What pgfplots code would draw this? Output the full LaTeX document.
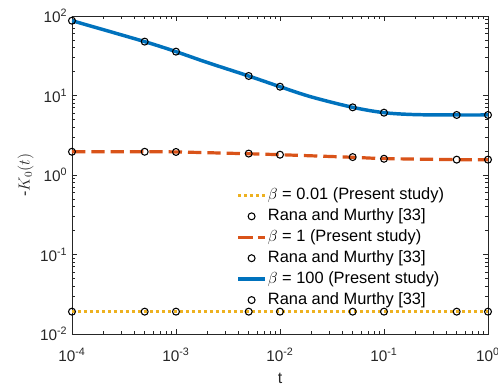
\documentclass[border=0pt]{standalone}
\usepackage{fontspec}
\setmainfont{Liberation Sans}
\usepackage{pgfplots}
\pgfplotsset{compat=1.18}
\definecolor{mblue}{rgb}{0,0.447,0.741}
\definecolor{morange}{rgb}{0.85,0.325,0.098}
\definecolor{myellow}{rgb}{0.929,0.694,0.125}
\definecolor{axgray}{rgb}{0.15,0.15,0.15}
\begin{document}
\begin{tikzpicture}
\begin{axis}[
  name=ax,
  scale only axis,
  width=312pt, height=238.5pt,
  xmode=log, ymode=log,
  xmin=1e-4, xmax=1, ymin=1e-2, ymax=1e2,
  axis line style={axgray, line width=0.5pt},
  every tick/.style={axgray, line width=0.5pt},
  major tick length=4pt, minor tick length=2.2pt,
  xtick={1e-4,1e-3,1e-2,1e-1,1},
  xticklabels={10\textsuperscript{-4},10\textsuperscript{-3},10\textsuperscript{-2},10\textsuperscript{-1},10\textsuperscript{0}},
  ytick={1e-2,1e-1,1,1e1,1e2},
  yticklabels={10\textsuperscript{-2},10\textsuperscript{-1},10\textsuperscript{0},10\textsuperscript{1},10\textsuperscript{2}},
  tick label style={font=\fontsize{11.5}{13}\selectfont, text=axgray},
  xticklabel style={yshift=-7pt},
  xlabel={$\mathrm{t}$},
  ylabel={-$K_0(t)$},
  label style={font=\fontsize{12}{14}\selectfont, text=axgray},
  xlabel style={yshift=-2pt},
  ylabel style={yshift=-2pt},
  legend cell align=left,
  legend style={draw=none, fill=none, at={(0.395,0.466)}, anchor=north west,
    font=\fontsize{12.3}{14}\selectfont, inner sep=0pt, row sep=1.7pt,
    nodes={inner sep=1pt, text height=9pt, text depth=3pt}},
  legend image code/.code={\draw[mark repeat=2,mark phase=2,#1] plot coordinates {(0cm,0cm) (0.35cm,0cm) (0.7cm,0cm)};},
  mymark/.style={only marks, mark=o, mark size=2.6pt, mark options={black, line width=0.8pt, fill=none}},
]
% beta = 0.01
\addplot[myellow, line width=2.3pt, dash pattern=on 2.3pt off 2.2pt] coordinates {
(1e-4,0.0191) (1e-3,0.0191) (1e-2,0.0191) (1e-1,0.0191) (1,0.0191)};
\addlegendentry{$\beta$ = 0.01 (Present study)}
\addplot[mymark] coordinates {
(1e-4,0.0191) (5e-4,0.0191) (1e-3,0.0191) (5e-3,0.0191) (1e-2,0.0191) (5e-2,0.0191) (1e-1,0.0191) (5e-1,0.0191) (1,0.0191)};
\addlegendentry{Rana and Murthy [33]}
% beta = 1
\addplot[morange, line width=2.4pt, dash pattern=on 10pt off 4.5pt, smooth] coordinates {
(1e-4,1.96) (5e-4,1.96) (1e-3,1.95) (5e-3,1.85) (1e-2,1.80) (5e-2,1.67) (1e-1,1.61) (5e-1,1.56) (1,1.56)};
\addlegendentry{$\beta$ = 1 (Present study)}
\addplot[mymark] coordinates {
(1e-4,1.96) (5e-4,1.96) (1e-3,1.95) (5e-3,1.86) (1e-2,1.80) (5e-2,1.68) (1e-1,1.60) (5e-1,1.56) (1,1.56)};
\addlegendentry{Rana and Murthy [33]}
% beta = 100
\addplot[mblue, line width=2.6pt, smooth] coordinates {
(1e-4,87.3) (5e-4,47.6) (1e-3,35.6) (2e-3,26.0) (5e-3,17.6) (1e-2,12.9) (2e-2,9.6) (5e-2,7.1) (1e-1,6.08) (2e-1,5.75) (5e-1,5.69) (1,5.69)};
\addlegendentry{$\beta$ = 100 (Present study)}
\addplot[mymark] coordinates {
(1e-4,87.3) (5e-4,47.6) (1e-3,35.6) (5e-3,17.6) (1e-2,12.9) (5e-2,7.1) (1e-1,6.08) (5e-1,5.69) (1,5.69)};
\addlegendentry{Rana and Murthy [33]}
\end{axis}
\pgfresetboundingbox
\path[use as bounding box] ([shift={(-54pt,-39.75pt)}]ax.south west) rectangle ([shift={(7.5pt,12pt)}]ax.north east);
\end{tikzpicture}
\end{document}
